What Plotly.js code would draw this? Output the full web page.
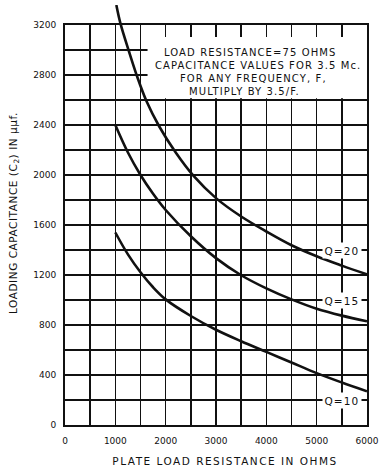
<!DOCTYPE html>
<html>
<head>
<meta charset="utf-8">
<script src="https://cdn.plot.ly/plotly-3.0.1.min.js"></script>
<style>
  html, body { margin: 0; padding: 0; background: #fff; }
  #chart { width: 388px; height: 471px; }
  .annotation-text { letter-spacing: 1.1px; }
  .xtitle { letter-spacing: 1.5px; translate: 9px 0; }
  .ytitle { letter-spacing: 0.55px; translate: 0 -12px; }
</style>
</head>
<body>
<div id="chart"></div>
<script>
// ---- data ----
const resistanceQ20 = [1020, 1100, 1270, 1440, 1620, 1870, 2200, 2550, 3000, 3500, 4000, 4500, 5000, 5500, 6000];
const capacitanceQ20 = [3360, 3215, 2990, 2780, 2590, 2390, 2180, 1995, 1815, 1668, 1548, 1438, 1350, 1275, 1205];

const resistanceQ15 = [1000, 1250, 1500, 1750, 2000, 2500, 3000, 3500, 4000, 4500, 5000, 5500, 6000];
const capacitanceQ15 = [2400, 2180, 2000, 1850, 1720, 1510, 1335, 1198, 1093, 1005, 930, 875, 830];

const resistanceQ10 = [1000, 1250, 1500, 1750, 2000, 2500, 3000, 3500, 4000, 4500, 5000, 5500, 6000];
const capacitanceQ10 = [1540, 1365, 1222, 1102, 1005, 872, 762, 670, 585, 500, 415, 340, 270];

const curveLabels = ["Q=20", "Q=15", "Q=10"];
const labelX = [5500, 5500, 5500];
const labelY = [1400, 1000, 200];

const xTickVals = [0, 1000, 2000, 3000, 4000, 5000, 6000];
const yTickVals = [0, 400, 800, 1200, 1600, 2000, 2400, 2800, 3200];

const noteLines = ["LOAD RESISTANCE=75 OHMS", "CAPACITANCE VALUES FOR 3.5 Mc.", "FOR ANY FREQUENCY, F,", "MULTIPLY BY 3.5/F."];
const noteX = [3666, 3839, 3745, 3557];
const noteY = [2984, 2880, 2776, 2672];

// ---- layout helpers ----
const INK = '#111';
const mainFrac = 400 / 420;          // fraction of plot height used by the gridded axes
const yMax = 3200;

const curveLine = { color: INK, width: 2.6, shape: 'spline', smoothing: 1 };

const traces = [
  { x: resistanceQ20, y: capacitanceQ20, mode: 'lines', line: curveLine, xaxis: 'x2', yaxis: 'y2', hoverinfo: 'skip', name: curveLabels[0] },
  { x: resistanceQ15, y: capacitanceQ15, mode: 'lines', line: curveLine, xaxis: 'x', yaxis: 'y', hoverinfo: 'skip', name: curveLabels[1] },
  { x: resistanceQ10, y: capacitanceQ10, mode: 'lines', line: curveLine, xaxis: 'x', yaxis: 'y', hoverinfo: 'skip', name: curveLabels[2] }
];

const tickFont = { family: 'DejaVu Sans', size: 9, color: INK };
const annotations = [];
noteLines.forEach((t, i) => annotations.push({
  x: noteX[i], y: noteY[i], xref: 'x', yref: 'y', text: t, showarrow: false,
  font: { family: 'DejaVu Sans', size: 10, color: INK }, xanchor: 'center', yanchor: 'middle'
}));
curveLabels.forEach((t, i) => annotations.push({
  x: labelX[i], y: labelY[i], xref: 'x', yref: 'y', text: t, showarrow: false,
  font: { family: 'DejaVu Sans', size: 10.5, color: INK }, bgcolor: '#fff', borderpad: 1.5,
  xanchor: 'center', yanchor: 'middle'
}));

const layout = {
  width: 388, height: 471,
  margin: { l: 65, r: 21, t: 5, b: 46 },
  paper_bgcolor: '#fff', plot_bgcolor: 'rgba(0,0,0,0)',
  showlegend: false,
  xaxis: {
    range: [0, 6000], domain: [0, 1], anchor: 'y',
    tickvals: xTickVals, ticks: '', ticklabelstandoff: 6,
    tickfont: tickFont,
    showgrid: true, gridcolor: INK, gridwidth: 1.6,
    minor: { dtick: 500, showgrid: true, gridcolor: INK, gridwidth: 1.6 },
    showline: true, linecolor: INK, linewidth: 2, mirror: true,
    zeroline: false, fixedrange: true,
    title: { text: 'PLATE LOAD RESISTANCE IN OHMS', font: { family: 'DejaVu Sans', size: 10.5, color: INK }, standoff: 13 }
  },
  yaxis: {
    range: [0, yMax], domain: [0, mainFrac], anchor: 'x',
    tickvals: yTickVals, ticks: '', ticklabelstandoff: 5,
    tickfont: tickFont,
    showgrid: true, gridcolor: INK, gridwidth: 1.6,
    minor: { dtick: 200, showgrid: true, gridcolor: INK, gridwidth: 1.6 },
    showline: true, linecolor: INK, linewidth: 2, mirror: true,
    zeroline: false, fixedrange: true,
    title: { text: 'LOADING CAPACITANCE (C<sub>2</sub>) IN μμf.', font: { family: 'DejaVu Sans', size: 10.5, color: INK }, standoff: 14 }
  },
  xaxis2: { range: [0, 6000], domain: [0, 1], anchor: 'y2', visible: false, fixedrange: true },
  yaxis2: { range: [0, yMax / mainFrac], domain: [0, 1], anchor: 'x2', visible: false, fixedrange: true },
  shapes: [
    { type: 'rect', xref: 'x', yref: 'y', x0: 1640, x1: 6000, y0: 2615, y1: 3105,
      fillcolor: '#fff', line: { width: 0 }, layer: 'between' }
  ],
  annotations: annotations
};

Plotly.newPlot('chart', traces, layout, { displayModeBar: false, staticPlot: true });
</script>
</body>
</html>
